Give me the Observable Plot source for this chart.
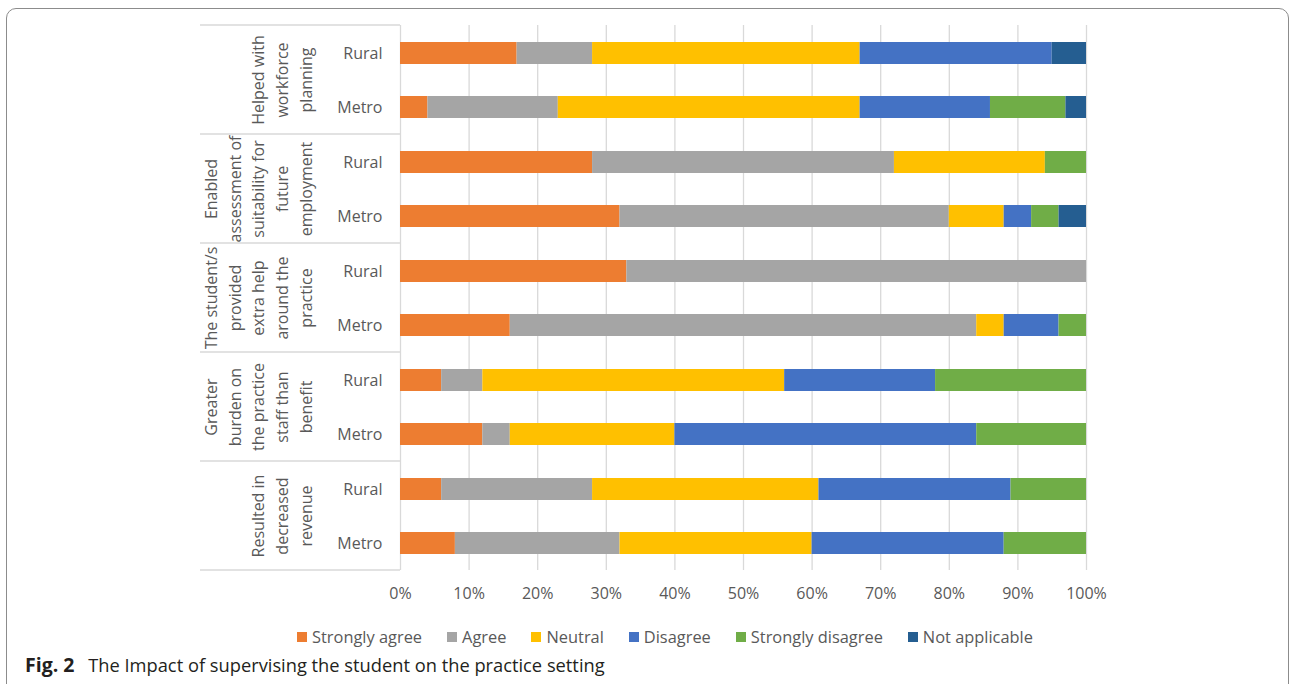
<!DOCTYPE html>
<html><head><meta charset="utf-8">
<script src="https://cdn.jsdelivr.net/npm/d3@7"></script>
<script src="https://cdn.jsdelivr.net/npm/@observablehq/plot@0.6"></script>
<style>
body{margin:0;background:#fff;font-family:"Open Sans",sans-serif;}
#fig{position:relative;width:1295px;height:684px;overflow:hidden;background:#fff;}
#frame{position:absolute;left:6px;top:8px;width:1283px;height:740px;border:1px solid #8c8c8c;border-radius:10px;box-sizing:border-box;}
#chart{position:absolute;left:0;top:0;}
#legend{position:absolute;left:297px;top:620px;}
.lg-swatches{font-family:"Open Sans",sans-serif !important;font-size:16.4px !important;color:#595959 !important;}
.lg-swatch{margin-right:25px !important;}
.lg-swatch > svg{margin-right:5px !important;}
#caption{position:absolute;left:25px;top:651px;font-size:18.3px;color:#231f20;white-space:nowrap;}
#caption b{margin-right:9px;font-size:19.5px;}
</style></head><body>
<div id="fig"><div id="frame"></div><div id="chart"></div><div id="legend"></div>
<div id="caption"><b>Fig. 2</b> The Impact of supervising the student on the practice setting</div></div>
<script>
const responses = ["Strongly agree","Agree","Neutral","Disagree","Strongly disagree","Not applicable"];
const colors = ["#ED7D31","#A5A5A5","#FFC000","#4472C4","#70AD47","#255E91"];
const statements = [
  "Helped with\nworkforce\nplanning",
  "Enabled\nassessment of\nsuitability for\nfuture\nemployment",
  "The student/s\nprovided\nextra help\naround the\npractice",
  "Greater\nburden on\nthe practice\nstaff than\nbenefit",
  "Resulted in\ndecreased\nrevenue"
];
const locations = ["Rural","Metro"];
const xTicks = [0,10,20,30,40,50,60,70,80,90,100];
// rows: statement 1 Rural, statement 1 Metro, statement 2 Rural, ...
const stronglyAgree    = [17,  4, 28, 32, 33, 16,  6, 12,  6,  8];
const agree            = [11, 19, 44, 48, 67, 68,  6,  4, 22, 24];
const neutral          = [39, 44, 22,  8,  0,  4, 44, 24, 33, 28];
const disagree         = [28, 19,  0,  4,  0,  8, 22, 44, 28, 28];
const stronglyDisagree = [ 0, 11,  6,  4,  0,  4, 22, 16, 11, 12];
const notApplicable    = [ 5,  3,  0,  4,  0,  0,  0,  0,  0,  0];

const series = [stronglyAgree, agree, neutral, disagree, stronglyDisagree, notApplicable];
const data = [];
for (let i = 0; i < stronglyAgree.length; i++) {
  series.forEach((s, r) => data.push({
    statement: statements[Math.floor(i / 2)],
    location: locations[i % 2],
    response: responses[r],
    value: s[i]
  }));
}

const plot = Plot.plot({
  width: 1295, height: 612,
  marginLeft: 400, marginRight: 209, marginTop: 25, marginBottom: 42,
  style: {fontFamily: "'Open Sans', sans-serif", color: "#595959", background: "transparent", overflow: "visible"},
  x: {domain: [0, 100], label: null},
  y: {domain: locations, paddingInner: 0.596, paddingOuter: 0.298, label: null},
  fy: {domain: statements, padding: 0, label: null, axis: null},
  color: {domain: responses, range: colors},
  marks: [
    Plot.gridX(xTicks.slice(1), {stroke: "#d9d9d9", strokeOpacity: 1, strokeWidth: 1.3}),
    Plot.ruleX([0], {stroke: "#d9d9d9", strokeWidth: 1.3}),
    Plot.barX(data, {x: "value", y: "location", fy: "statement", fill: "response"}),
    Plot.axisX(xTicks, {anchor: "bottom", tickSize: 0, tickPadding: 17, tickFormat: d => d + "%", fontSize: 16, label: null}),
    Plot.axisY({tickSize: 0, tickPadding: 18, fontSize: 16, label: null}),
    Plot.text(statements, {fy: d => d, text: d => d, frameAnchor: "left", dx: -89, rotate: -90,
      textAnchor: "middle", lineAnchor: "bottom", lineHeight: 1.47, fontSize: 16, fill: "#595959"})
  ]
});
document.getElementById("chart").appendChild(plot);

// group separators in the label area, positioned from the facet and x scales
const fy = plot.scale("fy"), xs = plot.scale("x");
const x0 = xs.apply(0);
const bounds = statements.map(s => fy.apply(s)).concat([fy.apply(statements[statements.length - 1]) + fy.bandwidth]);
d3.select(plot).append("g").selectAll("line").data(bounds).join("line")
  .attr("x1", x0 - 200).attr("x2", x0).attr("y1", d => d).attr("y2", d => d)
  .attr("stroke", "#d9d9d9").attr("stroke-width", 1.3);

const legend = Plot.legend({color: {domain: responses, range: colors}, swatchSize: 10, className: "lg"});
document.getElementById("legend").appendChild(legend);
</script>
</body></html>
